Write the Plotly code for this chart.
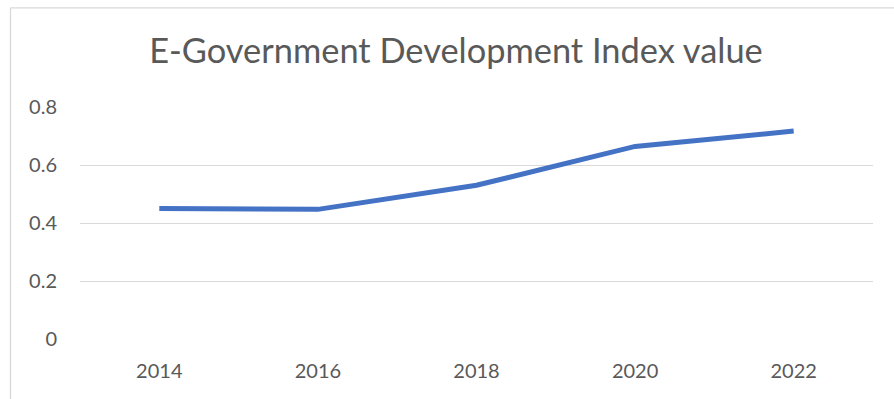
import plotly.graph_objects as go

years = ["2014", "2016", "2018", "2020", "2022"]
egdi = [0.450, 0.447, 0.530, 0.664, 0.717]
y_ticks = [0, 0.2, 0.4, 0.6, 0.8]
y_tick_labels = ["0", "0.2", "0.4", "0.6", "0.8"]
title_text = "E-Government Development Index value"

W, H = 894, 399
L, R, T, B = 80, 21, 106.5, 59.7
pw, ph = W - L - R, H - T - B

def px_to_paper_x(px):
    return (px - L) / pw

def px_to_paper_y(py):
    return (H - B - py) / ph

font_family = "Lato"
grey = "#595959"

fig = go.Figure()
fig.add_trace(go.Scatter(
    x=years, y=egdi, mode="lines",
    line=dict(color="#4472C4", width=5),
    hoverinfo="skip", showlegend=False,
))

fig.update_layout(
    width=W, height=H,
    margin=dict(l=L, r=R, t=T, b=B, pad=0),
    paper_bgcolor="white", plot_bgcolor="white",
    font=dict(family=font_family, color=grey, size=20),
    title=dict(
        text=title_text, x=456 / W, xanchor="center",
        y=1 - 51 / H, yanchor="middle",
        font=dict(family=font_family, size=34.4, color=grey),
    ),
    xaxis=dict(
        type="category", range=[-0.5, len(years) - 0.5],
        showgrid=False, zeroline=False, showline=False,
        ticks="", tickfont=dict(size=20, color=grey),
        ticklabelstandoff=18,
    ),
    yaxis=dict(
        range=[0, 0.8], tickvals=y_ticks, ticktext=y_tick_labels,
        showgrid=True, gridcolor="#D9D9D9", gridwidth=1.3,
        zeroline=False, showline=False, ticks="",
        tickfont=dict(size=20, color=grey),
        ticklabelstandoff=22,
    ),
    shapes=[
        dict(type="line", xref="paper", yref="paper",
             x0=px_to_paper_x(10.5), x1=px_to_paper_x(W + 20),
             y0=px_to_paper_y(7), y1=px_to_paper_y(7),
             line=dict(color="#D9D9D9", width=1.3)),
        dict(type="line", xref="paper", yref="paper",
             x0=px_to_paper_x(10.5), x1=px_to_paper_x(10.5),
             y0=px_to_paper_y(7), y1=px_to_paper_y(H + 20),
             line=dict(color="#D9D9D9", width=1.3)),
    ],
)

fig.write_html("out.html")
